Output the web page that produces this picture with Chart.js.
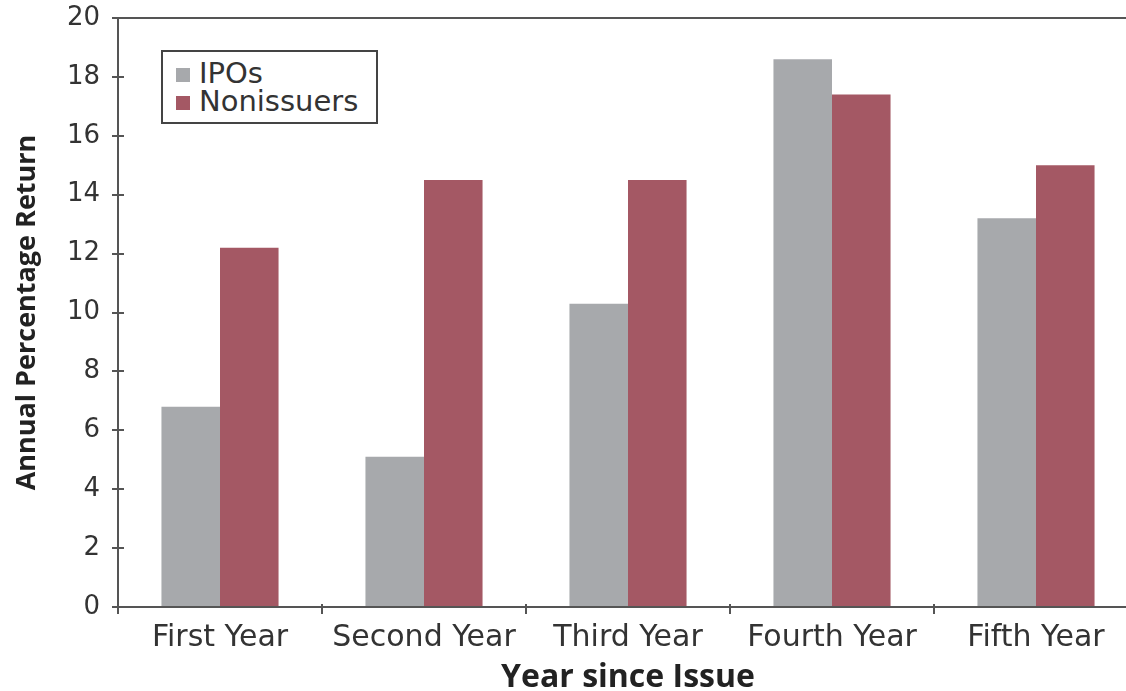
<!DOCTYPE html>
<html>
<head>
<meta charset="utf-8">
<script src="https://cdn.jsdelivr.net/npm/chart.js@4"></script>
<style>
  html, body { margin: 0; padding: 0; background: #fff; overflow: hidden; }
  #wrap { position: relative; width: 1140px; height: 691px; }
  #legendBox {
    position: absolute; left: 161px; top: 50px; width: 213px; height: 70px;
    border: 2px solid #444; background: #fff;
  }
  .ltext { position: absolute; left: 199px; height: 28px; line-height: 28px; white-space: nowrap;
           font-family: "DejaVu Sans", sans-serif; font-size: 29px; color: #333; }
  .sw { position: absolute; left: 176px; width: 14px; height: 14px; }
</style>
</head>
<body>
<div id="wrap">
  <canvas id="c" width="1140" height="691" style="width:1140px;height:691px"></canvas>
  <div id="legendBox"></div>
</div>
<script>
const categories = ["First Year", "Second Year", "Third Year", "Fourth Year", "Fifth Year"];
const seriesNames = ["IPOs", "Nonissuers"];
const ipoValues = [6.8, 5.1, 10.3, 18.6, 13.2];
const nonissuerValues = [12.2, 14.5, 14.5, 17.4, 15.0];
const seriesColors = ["#a7a9ac", "#a45864"];
const yTickMin = 0, yTickMax = 20, yTickStep = 2;
const xTitle = "Year since Issue";
const yTitle = "Annual Percentage Return";

const axisColor = "#555";
const regFont = "'DejaVu Sans', sans-serif";
const boldFont = "'Open Sans', sans-serif";

const stubPlugin = {
  id: "stubs",
  afterDraw(chart) {
    const ctx = chart.ctx;
    const y = chart.scales.y, x = chart.scales.x;
    ctx.save();
    ctx.strokeStyle = axisColor;
    ctx.lineWidth = 2;
    y.ticks.forEach((t, i) => {
      if (t.value === yTickMin || t.value === yTickMax) return;
      const py = Math.round(y.getPixelForTick(i));
      ctx.beginPath();
      ctx.moveTo(y.right, py);
      ctx.lineTo(y.right + 6, py);
      ctx.stroke();
    });
    for (let i = 1; i < categories.length; i++) {
      const px = (x.getPixelForTick(i - 1) + x.getPixelForTick(i)) / 2;
      ctx.beginPath();
      ctx.moveTo(px, x.top);
      ctx.lineTo(px, x.top - 3);
      ctx.stroke();
    }
    ctx.restore();
  }
};

const chart = new Chart(document.getElementById("c"), {
  type: "bar",
  data: {
    labels: categories,
    datasets: [
      { label: seriesNames[0], data: ipoValues, backgroundColor: seriesColors[0] },
      { label: seriesNames[1], data: nonissuerValues, backgroundColor: seriesColors[1] }
    ]
  },
  options: {
    responsive: false,
    animation: false,
    devicePixelRatio: 1,
    layout: { padding: { top: 18, right: 2, left: 0, bottom: 0 } },
    plugins: { legend: { display: false }, tooltip: { enabled: false } },
    datasets: { bar: { categoryPercentage: 0.574, barPercentage: 1.0 } },
    scales: {
      x: {
        grid: { display: true, drawOnChartArea: false, drawTicks: true, tickLength: 7, offset: true, color: axisColor, lineWidth: 2 },
        border: { display: true, color: axisColor, width: 2 },
        ticks: { color: "#333", font: { family: regFont, size: 30 }, padding: 6, maxRotation: 0 },
        title: { display: true, text: xTitle, color: "#222", font: { family: boldFont, size: 32, weight: "bold", lineHeight: 1 }, padding: { top: 0, bottom: -3 } },
        afterFit(s) { s.height = 84; s.paddingLeft = 0; s.paddingRight = 0; }
      },
      y: {
        min: yTickMin, max: yTickMax,
        grid: {
          drawOnChartArea: true, drawTicks: true, tickLength: 6,
          color: (c) => (c.tick && c.tick.value === yTickMax ? axisColor : "rgba(0,0,0,0)"),
          tickColor: axisColor, lineWidth: 2
        },
        border: { display: true, color: axisColor, width: 2 },
        ticks: { stepSize: yTickStep, color: "#333", font: { family: regFont, size: 26 }, padding: 12 },
        title: { display: true, text: yTitle, color: "#222", font: { family: boldFont, size: 27, weight: "bold", lineHeight: 1 }, padding: { top: 14, bottom: 0 } },
        afterFit(s) { s.width = 118; s.paddingTop = 0; s.paddingBottom = 0; }
      }
    }
  },
  plugins: [stubPlugin]
});

const wrap = document.getElementById("wrap");
seriesNames.forEach((n, i) => {
  const sw = document.createElement("div");
  sw.className = "sw";
  sw.style.top = (68 + i * 28) + "px";
  sw.style.background = seriesColors[i];
  wrap.appendChild(sw);
  const t = document.createElement("div");
  t.className = "ltext";
  t.style.top = (59 + i * 28) + "px";
  t.textContent = n;
  wrap.appendChild(t);
});
</script>
</body>
</html>
